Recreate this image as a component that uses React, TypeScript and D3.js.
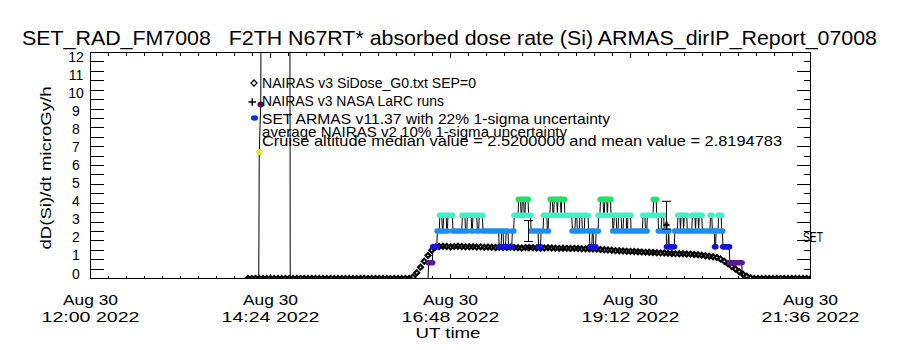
import React from "react";
import * as d3 from "d3";

// ---------- text ----------
const TITLE = "SET_RAD_FM7008   F2TH N67RT* absorbed dose rate (Si) ARMAS_dirIP_Report_07008";
const Y_LABEL = "dD(Si)/dt microGy/h";
const X_LABEL = "UT time";
const RIGHT_LABEL = "SET";
const LEGEND = [
  "NAIRAS v3 SiDose_G0.txt SEP=0",
  "NAIRAS v3 NASA LaRC runs",
  "SET ARMAS v11.37 with 22% 1-sigma uncertainty",
  "average NAIRAS v2 10% 1-sigma uncertainty",
  "Cruise altitude median value = 2.5200000 and mean value = 2.8194783",
];

// ---------- axes (time in minutes after 12:00 UT, 30 Aug 2022) ----------
const X_DOMAIN = [0, 576];
const X_TICK_MIN = [0, 144, 288, 432, 576];
const X_TICK_DATE = ["Aug 30", "Aug 30", "Aug 30", "Aug 30", "Aug 30"];
const X_TICK_TIME = ["12:00 2022", "14:24 2022", "16:48 2022", "19:12 2022", "21:36 2022"];
const X_MINOR_STEP = 14.4;
const Y_DOMAIN = [0, 12];
const Y_TICKS = [0, 1, 2, 3, 4, 5, 6, 7, 8, 9, 10, 11, 12];
const Y_MINOR_STEP = 0.5;

// ---------- NAIRAS v3 SiDose_G0 (diamonds), sampled every 3 min from 126 min ----------
const NAIRAS_START = 126;
const NAIRAS_STEP = 3;
const nairasValues = [
  0, 0, 0, 0, 0, 0, 0, 0, 0, 0, 0, 0, 0, 0, 0, 0, 0, 0, 0, 0, 0, 0,
  0, 0, 0, 0, 0, 0, 0, 0, 0, 0, 0, 0, 0, 0, 0, 0, 0, 0, 0, 0, 0, 0,
  0.08, 0.3, 0.6, 0.92, 1.22, 1.5, 1.67, 1.7,
  1.71, 1.7, 1.69, 1.7, 1.71, 1.7, 1.68, 1.69, 1.68, 1.67, 1.68, 1.66, 1.67, 1.66, 1.65, 1.66, 1.64, 1.65, 1.66,
  1.64, 1.63, 1.62, 1.64, 1.65, 1.63, 1.62, 1.61, 1.62, 1.63, 1.62, 1.61, 1.6, 1.61, 1.6, 1.59, 1.6, 1.59,
  1.58, 1.58, 1.57, 1.56, 1.56, 1.54, 1.53, 1.51, 1.5, 1.48,
  1.47, 1.46, 1.45, 1.44, 1.43, 1.42, 1.41, 1.4, 1.39, 1.38,
  1.37, 1.36, 1.35, 1.34, 1.33, 1.32, 1.31, 1.31, 1.3, 1.29,
  1.28, 1.26, 1.24, 1.21, 1.18, 1.15, 1.11,
  1.03, 0.91, 0.78, 0.64, 0.5, 0.36, 0.23, 0.12, 0.04,
  0, 0, 0, 0, 0, 0, 0, 0, 0, 0, 0, 0, 0, 0, 0, 0,
];

// ---------- SET ARMAS: early spike (points) ----------
const armasSpikeTime = [134.6, 135, 136.2, 137.6, 159, 159.8];
const armasSpikeValue = [0, 6.72, 9.24, 40, 40, 0];

// ---------- SET ARMAS: runs of constant dose rate [start min, end min, value] ----------
const armasRuns: [number, number, number][] = [
  [160, 270, 0],
  [270.5, 273.5, 0.84], [274, 277, 1.68], [277.5, 279, 2.52], [279.5, 281, 3.36],
  [281.5, 282, 2.52], [282.5, 284.5, 3.36], [285, 285.5, 2.52], [286, 289.5, 3.36],
  [290, 297, 2.52], [297.5, 299.5, 3.36], [300, 301, 2.52], [301.5, 304.5, 3.36],
  [305, 305.5, 2.52], [306, 309, 3.36], [309.5, 310.5, 2.52], [311, 313.5, 3.36],
  [314, 326.5, 2.52], [327, 328.5, 1.68], [329, 330, 2.52], [330.5, 332, 1.68],
  [332.5, 334, 2.52], [334.5, 337, 1.68], [337.5, 338.5, 2.52], [339, 342, 3.36],
  [342.5, 344, 4.2], [344.5, 345, 3.36], [345.5, 346.5, 4.2], [347, 347.5, 3.36],
  [348, 350, 4.2], [350.5, 352, 3.36], [352.5, 358, 2.52], [358.5, 360, 1.68],
  [360.5, 362, 2.52], [362.5, 365, 3.36], [365.5, 366, 2.52], [366.5, 367.5, 3.36],
  [368, 369.5, 4.2], [370, 370.5, 3.36], [371, 373, 4.2], [373.5, 373.5, 3.36],
  [374, 376, 4.2], [376.5, 376.5, 3.36], [377, 379, 4.2], [379.5, 385, 3.36],
  [385.5, 387.5, 2.52], [388, 389, 3.36], [389.5, 391, 2.52], [391.5, 393, 3.36],
  [393.5, 395, 2.52], [395.5, 398, 3.36], [398.5, 399, 2.52], [399.5, 401, 1.68],
  [401.5, 402, 2.52], [402.5, 404, 1.68], [404.5, 406, 2.52], [406.5, 407.5, 3.36],
  [408, 410, 4.2], [410.5, 411, 3.36], [411.5, 413, 4.2], [413.5, 413.5, 3.36],
  [414, 416, 4.2], [416.5, 417.5, 3.36], [418, 418.5, 2.52], [419, 420.5, 3.36],
  [421, 422, 2.52], [422.5, 424.5, 3.36], [425, 426, 2.52], [426.5, 428.5, 3.36],
  [429, 429.5, 2.52], [430, 432, 3.36], [432.5, 441.5, 2.52], [442, 443.5, 3.36],
  [444, 445, 2.52], [445.5, 450, 3.36], [450.5, 452.5, 4.2], [453, 454, 3.36],
  [454.5, 456.5, 2.52], [457, 458.5, 3.36], [459, 460.5, 2.52], [461, 462, 1.68],
  [462.5, 462.5, 2.52], [463, 467, 1.68], [467.5, 469.5, 2.52], [470, 471.5, 3.36],
  [472, 472, 2.52], [472.5, 474, 3.36], [474.5, 474.5, 2.52], [475, 477, 3.36],
  [477.5, 481, 2.52], [481.5, 483.5, 3.36], [484, 484, 2.52], [484.5, 486, 3.36],
  [486.5, 486.5, 2.52], [487, 489, 3.36], [489.5, 495.5, 2.52], [496, 497, 3.36],
  [497.5, 499, 2.52], [499.5, 500, 1.68], [500.5, 502, 2.52], [502.5, 504.5, 3.36],
  [505, 505.5, 2.52], [506, 511, 1.68], [511.5, 521, 0.84], [521.5, 576, 0],
];

// ---------- ARMAS points shown with 22% 1-sigma error bars ----------
const errTime = [350.4, 460.8];
const errValue = [2.52, 3.36];
const ARMAS_UNCERTAINTY = 0.22;

// ---------- NAIRAS v3 NASA LaRC runs (+) ----------
const larcTime = [350.4, 460.8];
const larcValue = [1.6, 2.85];

// ---------- colours by ARMAS dose level ----------
const LEVELS = [0.84, 1.68, 2.52, 3.36, 4.2, 6.72, 9.24];
const LEVEL_COLORS = ["#5c1a90", "#1414d2", "#1e8eee", "#3ff2c8", "#22e06a", "#e6e622", "#4a0c4a"];

const FONT = "'Liberation Sans', Arial, sans-serif";

export default function App() {
  const x = d3.scaleLinear().domain(X_DOMAIN).range([90.5, 810.5]);
  const y = d3.scaleLinear().domain(Y_DOMAIN).range([278.5, 52.5]);
  // IDL spaces the tick labels slightly tighter than the ticks themselves
  const yLabel = d3.scaleLinear().domain(Y_DOMAIN).range([273.5, 56.5]);
  const color = d3.scaleOrdinal<number, string>().domain(LEVELS).range(LEVEL_COLORS);

  const [x0, x1] = x.range();
  const [yb, yt] = y.range();

  const xMinor = d3.range(X_DOMAIN[0], X_DOMAIN[1] + 0.01, X_MINOR_STEP);
  const yMinor = d3.range(Y_DOMAIN[0], Y_DOMAIN[1] + 0.01, Y_MINOR_STEP);

  const nairas = nairasValues.map((v, i) => ({ t: NAIRAS_START + i * NAIRAS_STEP, v }));

  const armasPts: { t: number; v: number }[] = [];
  armasSpikeTime.forEach((t, i) => armasPts.push({ t, v: armasSpikeValue[i] }));
  armasRuns.forEach(([a, b, v]) => {
    armasPts.push({ t: a, v });
    armasPts.push({ t: b, v });
  });
  const line = d3
    .line<{ t: number; v: number }>()
    .x((d) => x(d.t))
    .y((d) => y(d.v));

  const diamond = (cx: number, cy: number, s: number) =>
    `M${cx},${cy - s}L${cx + s},${cy}L${cx},${cy + s}L${cx - s},${cy}Z`;

  const bandH = 5.6;
  const bandPad = 3.1;
  const pre = { whiteSpace: "pre" as const };

  return (
    <svg
      width={900}
      height={350}
      style={{ position: "absolute", left: 0, top: 0, display: "block", background: "#fff" }}
      fontFamily={FONT}
    >
      <rect x={0} y={0} width={900} height={350} fill="#fff" />
      <defs>
        <clipPath id="plot">
          <rect x={x0} y={yt} width={x1 - x0} height={yb - yt} />
        </clipPath>
      </defs>

      {/* title */}
      <text x={22} y={45} fontSize={21} textLength={855} lengthAdjust="spacingAndGlyphs" style={pre}>
        {TITLE}
      </text>

      {/* data */}
      <g clipPath="url(#plot)">
        {nairas.map((d, i) => (
          <path key={"n" + i} d={diamond(x(d.t), y(d.v), 2.5)} fill="none" stroke="#000" strokeWidth={2.1} />
        ))}
        <path d={line(armasPts) || ""} fill="none" stroke="#000" strokeWidth={1} />
        {armasRuns
          .filter((r) => r[2] > 0)
          .map(([a, b, v], i) => (
            <rect
              key={"r" + i}
              x={x(a) - bandPad}
              y={y(v) - bandH / 2}
              width={x(b) - x(a) + 2 * bandPad}
              height={bandH}
              rx={2.8}
              ry={2.8}
              fill={color(v)}
            />
          ))}
        {armasSpikeTime.map((t, i) =>
          armasSpikeValue[i] > 0 && armasSpikeValue[i] <= 12 ? (
            <ellipse key={"s" + i} cx={x(t)} cy={y(armasSpikeValue[i])} rx={3.2} ry={3} fill={color(armasSpikeValue[i])} />
          ) : null
        )}
        {errTime.map((t, i) => {
          const cx = x(t);
          const hi = y(errValue[i] * (1 + ARMAS_UNCERTAINTY));
          const lo = y(errValue[i] * (1 - ARMAS_UNCERTAINTY));
          return (
            <g key={"e" + i} stroke="#000" strokeWidth={1}>
              <line x1={cx} x2={cx} y1={hi} y2={lo} />
              <line x1={cx - 4.5} x2={cx + 4.5} y1={hi} y2={hi} />
              <line x1={cx - 4.5} x2={cx + 4.5} y1={lo} y2={lo} />
            </g>
          );
        })}
        {larcTime.map((t, i) => {
          const cx = x(t);
          const cy = y(larcValue[i]);
          return (
            <g key={"l" + i} stroke="#000" strokeWidth={2.2}>
              <line x1={cx - 3} x2={cx + 3} y1={cy} y2={cy} />
              <line x1={cx} x2={cx} y1={cy - 3} y2={cy + 3} />
            </g>
          );
        })}
      </g>

      {/* frame */}
      <rect x={x0} y={yt} width={x1 - x0} height={yb - yt} fill="none" stroke="#000" strokeWidth={1} shapeRendering="crispEdges" />

      {/* x ticks bottom & top, y ticks left & right */}
      <g stroke="#000" strokeWidth={1} shapeRendering="crispEdges">
        {xMinor.map((t, i) => {
          const major = X_TICK_MIN.some((m) => Math.abs(m - t) < 0.01);
          const len = major ? 5 : 3;
          const px = Math.round(x(t) - 0.5) + 0.5;
          return (
            <g key={"xt" + i}>
              <line x1={px} x2={px} y1={yb} y2={yb - len} />
              <line x1={px} x2={px} y1={yt} y2={yt + len} />
            </g>
          );
        })}
        {yMinor.map((v, i) => {
          const py = Math.round(y(v) - 0.5) + 0.5;
          const rlen = i % 2 === 1 ? 7 : 14;
          return (
            <g key={"yt" + i}>
              <line x1={x0} x2={x0 + 13} y1={py} y2={py} />
              <line x1={x1} x2={x1 - rlen} y1={py} y2={py} />
            </g>
          );
        })}
      </g>

      {/* y tick labels */}
      {Y_TICKS.map((v) => (
        <text key={"yl" + v} x={76} y={yLabel(v) + 5} fontSize={14} textAnchor="middle">
          {String(v)}
        </text>
      ))}

      {/* x tick labels */}
      {X_TICK_MIN.map((t, i) => (
        <g key={"xl" + i}>
          <text x={x(t)} y={305} fontSize={15} textAnchor="middle" textLength={55} lengthAdjust="spacingAndGlyphs" style={pre}>
            {X_TICK_DATE[i]}
          </text>
          <text x={x(t)} y={322} fontSize={15} textAnchor="middle" textLength={98} lengthAdjust="spacingAndGlyphs" style={pre}>
            {X_TICK_TIME[i]}
          </text>
        </g>
      ))}

      {/* axis titles */}
      <text x={448} y={338} fontSize={15} textAnchor="middle" textLength={65} lengthAdjust="spacingAndGlyphs">
        {X_LABEL}
      </text>
      <text
        transform="translate(51,168) rotate(-90)"
        x={0}
        y={0}
        fontSize={15}
        textAnchor="middle"
        textLength={163}
        lengthAdjust="spacingAndGlyphs"
      >
        {Y_LABEL}
      </text>
      <text x={803} y={242} fontSize={14} textLength={20} lengthAdjust="spacingAndGlyphs">
        {RIGHT_LABEL}
      </text>

      {/* legend */}
      <path d={diamond(254, 83, 3)} fill="none" stroke="#000" strokeWidth={1.3} />
      <g stroke="#000" strokeWidth={1.5}>
        <line x1={248.5} x2={256} y1={102} y2={102} />
        <line x1={252.2} x2={252.2} y1={98.3} y2={105.7} />
      </g>
      <ellipse cx={254.5} cy={118} rx={3.6} ry={2.7} fill="#0a2ee8" />
      <text x={262} y={88} fontSize={15} textLength={214} lengthAdjust="spacingAndGlyphs">{LEGEND[0]}</text>
      <text x={262} y={106} fontSize={15} textLength={182} lengthAdjust="spacingAndGlyphs">{LEGEND[1]}</text>
      <text x={262} y={124} fontSize={15} textLength={348} lengthAdjust="spacingAndGlyphs">{LEGEND[2]}</text>
      <text x={262} y={137} fontSize={15} textLength={305} lengthAdjust="spacingAndGlyphs">{LEGEND[3]}</text>
      <text x={262} y={146} fontSize={15} textLength={520} lengthAdjust="spacingAndGlyphs">{LEGEND[4]}</text>
    </svg>
  );
}
